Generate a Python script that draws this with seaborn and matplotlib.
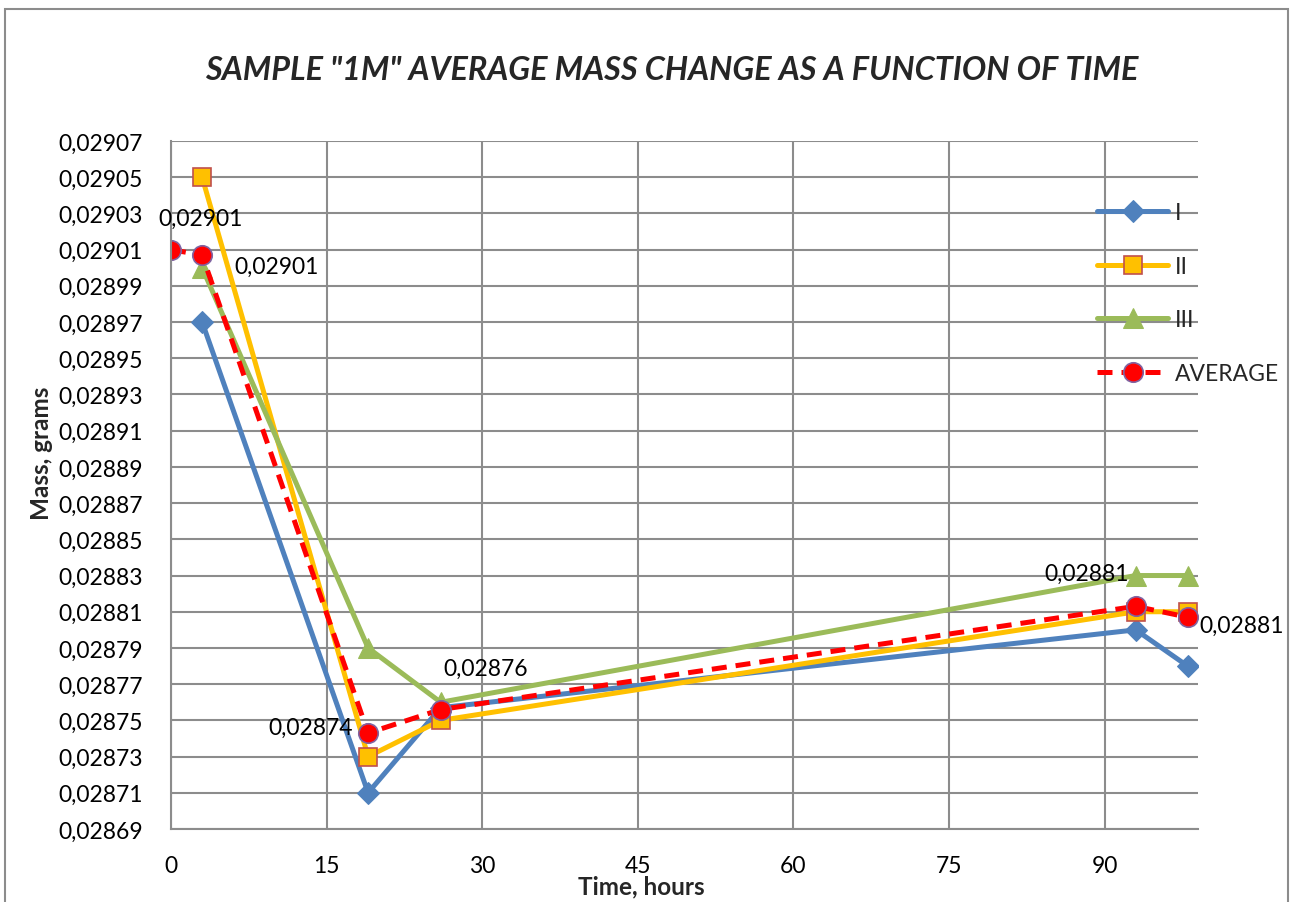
import matplotlib
matplotlib.use("Agg")
import matplotlib.pyplot as plt
import seaborn as sns
from matplotlib.patches import Rectangle

# ---- data ----
time_series = [3, 19, 26, 93, 98]
mass_I = [0.02897, 0.02871, 0.028757, 0.02880, 0.02878]
mass_II = [0.02905, 0.02873, 0.02875, 0.02881, 0.02881]
mass_III = [0.02900, 0.02879, 0.02876, 0.02883, 0.02883]
time_avg = [0, 3, 19, 26, 93, 98]
mass_avg = [0.02901, 0.029007, 0.028743, 0.028756, 0.028813, 0.028807]
avg_labels = ["0,02901", "0,02901", "0,02874", "0,02876", "0,02881", "0,02881"]
x_ticks = [0, 15, 30, 45, 60, 75, 90]
y_ticks = [0.02869, 0.02871, 0.02873, 0.02875, 0.02877, 0.02879, 0.02881,
           0.02883, 0.02885, 0.02887, 0.02889, 0.02891, 0.02893, 0.02895,
           0.02897, 0.02899, 0.02901, 0.02903, 0.02905, 0.02907]
y_tick_labels = [f"{v:.5f}".replace(".", ",") for v in y_ticks]

sns.set_theme(style="white")
plt.rcParams['font.family'] = ['Lato', 'DejaVu Sans']

fig = plt.figure(figsize=(12.97, 9.03), dpi=100)
ax = fig.add_axes([171/1297, 1-830/903, (1198-171)/1297, (830-142)/903])

grid_c = "#8c8c8c"
lw = 3.6
fs = 16.5

sns.lineplot(x=time_series, y=mass_I, ax=ax, color="#4F81BD", lw=lw, marker="D",
             markersize=11, markeredgecolor="#4F81BD", label="I")
sns.lineplot(x=time_series, y=mass_II, ax=ax, color="#FFC000", lw=lw, marker="s",
             markersize=13, markeredgecolor="#C0504D", markeredgewidth=1.2, label="II")
sns.lineplot(x=time_series, y=mass_III, ax=ax, color="#9BBB59", lw=lw, marker="^",
             markersize=14, markeredgecolor="#9BBB59", label="III")
sns.lineplot(x=time_avg, y=mass_avg, ax=ax, color="#FF0000", lw=lw, marker="o",
             markersize=14, markeredgecolor="#8064A2", markeredgewidth=1.2,
             label="AVERAGE", dashes=False, linestyle=(0, (3, 1.8)))

# data labels of average (offsets in pixels converted to points)
px = 72 / 100
offsets = [(30, 31, 'center', 'center'), (32, -11, 'left', 'center'),
           (-15, 6, 'right', 'center'), (3, 41, 'left', 'center'),
           (-7, 33, 'right', 'center'), (12, -8, 'left', 'center')]
for xv, yv, lab, (dx, dy, ha, va) in zip(time_avg, mass_avg, avg_labels, offsets):
    ax.annotate(lab, (xv, yv), xytext=(dx * px, dy * px), textcoords="offset points",
                ha=ha, va=va, fontsize=fs, color="black", annotation_clip=False)

ax.set_xlim(0, 99)
ax.set_ylim(0.02869, 0.02907)
ax.set_xticks(x_ticks)
ax.set_yticks(y_ticks)
ax.set_yticklabels(y_tick_labels)
ax.tick_params(axis="y", labelsize=fs, length=0, pad=20, colors="black")
ax.tick_params(axis="x", labelsize=fs, length=0, pad=19, colors="black")
ax.grid(True, color=grid_c, lw=1.5)
for s in ["top", "right"]:
    ax.spines[s].set_visible(False)
for s in ["left", "bottom"]:
    ax.spines[s].set_color(grid_c)
    ax.spines[s].set_linewidth(1.5)

ax.set_xlabel("Time, hours", fontsize=17.5, fontweight="bold")
ax.set_ylabel("Mass, grams", fontsize=17.5, fontweight="bold")
ax.xaxis.set_label_coords((641 - 171) / 1027, (830 - 875) / 688)
ax.yaxis.set_label_coords((53 - 171) / 1027, (830 - 453) / 688)

fig.text(672/1297, 1-70/903, 'SAMPLE "1M" AVERAGE MASS CHANGE AS A FUNCTION OF TIME',
         ha="center", va="center", fontsize=23.3, fontweight="bold", style="italic")

leg = ax.legend(loc="upper left", bbox_to_anchor=(1097/1297, 1-203/903),
                bbox_transform=fig.transFigure, frameon=False, fontsize=fs,
                handlelength=3.1, labelspacing=1.42, handletextpad=0.3,
                borderaxespad=0, borderpad=0)

fig.add_artist(Rectangle((5/1297, -0.01), 1283/1297, 1.0 - 1/903, transform=fig.transFigure,
                         fill=False, edgecolor=grid_c, lw=1.5))

fig.savefig("out.png", dpi=100)
